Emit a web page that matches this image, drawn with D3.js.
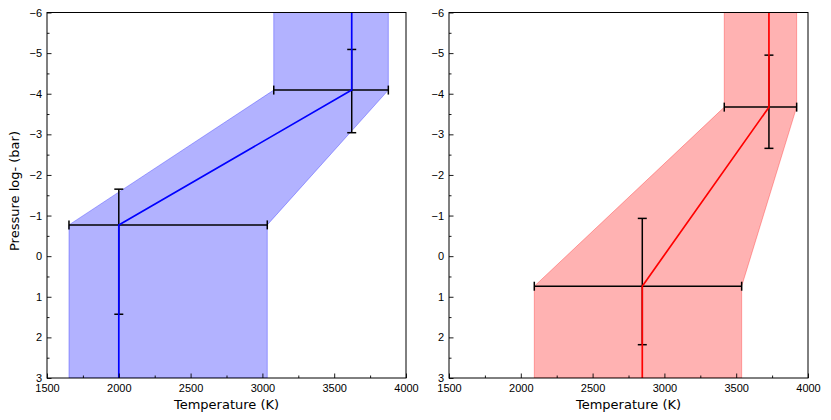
<!DOCTYPE html>
<html>
<head>
<meta charset="utf-8">
<script src="https://cdn.jsdelivr.net/npm/d3@7"></script>
<style>
  body { margin: 0; background: #fff; }
  svg { font-family: "DejaVu Sans", sans-serif; }
</style>
</head>
<body>
<svg id="chart" width="831" height="420"></svg>
<script>
// temperature / pressure nodes
var pTop = -6, pBottom = 3;
var xTicks = [1500, 2000, 2500, 3000, 3500, 4000];
var yTicks = [-6, -5, -4, -3, -2, -1, 0, 1, 2, 3];

var leftP = [-0.77, -4.09];
var leftT = [2000, 3622];
var leftTLo = [1653, 3079];
var leftTHi = [3034, 3877];
var leftPLo = [-1.65, -5.09];
var leftPHi = [1.43, -3.04];

var rightP = [0.74, -3.67];
var rightT = [2846, 3728];
var rightTLo = [2094, 3417];
var rightTHi = [3538, 3921];
var rightPLo = [-0.93, -4.95];
var rightPHi = [2.18, -2.655];

(function () {
	var svg = d3.select("#chart");
	var top = 12.5, bottom = 378;

	var drawPanel = function (opt) {
		var x = d3.scaleLinear().domain([1500, 4000]).range([opt.left, opt.right]);
		var y = d3.scaleLinear().domain([pTop, pBottom]).range([top, bottom]);
		var g = svg.append("g");

		var clipId = "clip-" + opt.name;
		g.append("clipPath").attr("id", clipId)
			.append("rect")
			.attr("x", opt.left).attr("y", top)
			.attr("width", opt.right - opt.left).attr("height", bottom - top);

		// profile extends flat to the top and bottom of the plot
		var rows = [
			{ p: pBottom, t: opt.T[0], lo: opt.TLo[0], hi: opt.THi[0] },
			{ p: opt.P[0], t: opt.T[0], lo: opt.TLo[0], hi: opt.THi[0] },
			{ p: opt.P[1], t: opt.T[1], lo: opt.TLo[1], hi: opt.THi[1] },
			{ p: pTop, t: opt.T[1], lo: opt.TLo[1], hi: opt.THi[1] }
		];

		var plot = g.append("g").attr("clip-path", "url(#" + clipId + ")");

		plot.append("path")
			.datum(rows)
			.attr("d", d3.area()
				.y(function (d) { return y(d.p); })
				.x0(function (d) { return x(d.lo); })
				.x1(function (d) { return x(d.hi); }))
			.style("fill", opt.color)
			.style("fill-opacity", 0.3)
			.style("stroke", opt.color)
			.style("stroke-opacity", 0.3)
			.style("stroke-width", 1);

		// error bars
		var cap = 4.5;
		opt.P.forEach(function (p, i) {
			var eb = g.append("g").style("stroke", "#000").style("stroke-width", 1.5).style("fill", "none");
			var cx = x(opt.T[i]), cy = y(p);
			eb.append("line").attr("x1", x(opt.TLo[i])).attr("x2", x(opt.THi[i])).attr("y1", cy).attr("y2", cy);
			eb.append("line").attr("x1", cx).attr("x2", cx).attr("y1", y(opt.PLo[i])).attr("y2", y(opt.PHi[i]));
			[opt.TLo[i], opt.THi[i]].forEach(function (t) {
				eb.append("line").attr("x1", x(t)).attr("x2", x(t)).attr("y1", cy - cap).attr("y2", cy + cap);
			});
			[opt.PLo[i], opt.PHi[i]].forEach(function (pp) {
				eb.append("line").attr("x1", cx - cap).attr("x2", cx + cap).attr("y1", y(pp)).attr("y2", y(pp));
			});
		});

		// the profile line sits on top of the error bars
		g.append("g").attr("clip-path", "url(#" + clipId + ")")
			.append("path")
			.datum(rows)
			.attr("d", d3.line()
				.x(function (d) { return x(d.t); })
				.y(function (d) { return y(d.p); }))
			.style("fill", "none")
			.style("stroke", opt.color)
			.style("stroke-width", 1.7);

		// axes, ticks inward
		var xAxis = g.append("g").attr("transform", "translate(0," + bottom + ")")
			.call(d3.axisBottom(x).tickValues(xTicks).tickSize(-4.5).tickPadding(6).tickFormat(d3.format("d")));
		g.append("g").attr("transform", "translate(0," + bottom + ")")
			.call(d3.axisBottom(x).tickValues(d3.range(1750, 4000, 500)).tickSize(-2.5).tickFormat(""))
			.select(".domain").remove();
		var yAxis = g.append("g").attr("transform", "translate(" + opt.left + ",0)")
			.call(d3.axisLeft(y).tickValues(yTicks).tickSize(-4.5).tickPadding(5)
				.tickFormat(function (d) { return d < 0 ? "\u2212" + Math.abs(d) : d; }));
		g.append("g").attr("transform", "translate(" + opt.left + ",0)")
			.call(d3.axisLeft(y).tickValues(d3.range(-5.5, 3, 1)).tickSize(-2.5).tickFormat(""))
			.select(".domain").remove();

		g.selectAll(".domain").remove();
		g.selectAll(".tick line").style("stroke", "#000").style("stroke-width", 0.9);
		xAxis.selectAll("text").style("font-size", "11px").style("fill", "#000");
		yAxis.selectAll("text").style("font-size", "11px").style("fill", "#000");

		// frame
		g.append("rect")
			.attr("x", opt.left).attr("y", top)
			.attr("width", opt.right - opt.left).attr("height", bottom - top)
			.style("fill", "none").style("stroke", "#000").style("stroke-width", 1);

		g.append("text")
			.attr("x", (opt.left + opt.right) / 2).attr("y", 409)
			.attr("text-anchor", "middle")
			.style("font-size", "13px")
			.text("Temperature (K)");
	};

	drawPanel({ name: "left", left: 47, right: 406, color: "blue",
		P: leftP, T: leftT, TLo: leftTLo, THi: leftTHi, PLo: leftPLo, PHi: leftPHi });
	drawPanel({ name: "right", left: 449, right: 808, color: "red",
		P: rightP, T: rightT, TLo: rightTLo, THi: rightTHi, PLo: rightPLo, PHi: rightPHi });

	svg.append("text")
		.attr("transform", "translate(19,191) rotate(-90)")
		.attr("text-anchor", "middle")
		.style("font-size", "13px")
		.text("Pressure log- (bar)");
})();
</script>
</body>
</html>
